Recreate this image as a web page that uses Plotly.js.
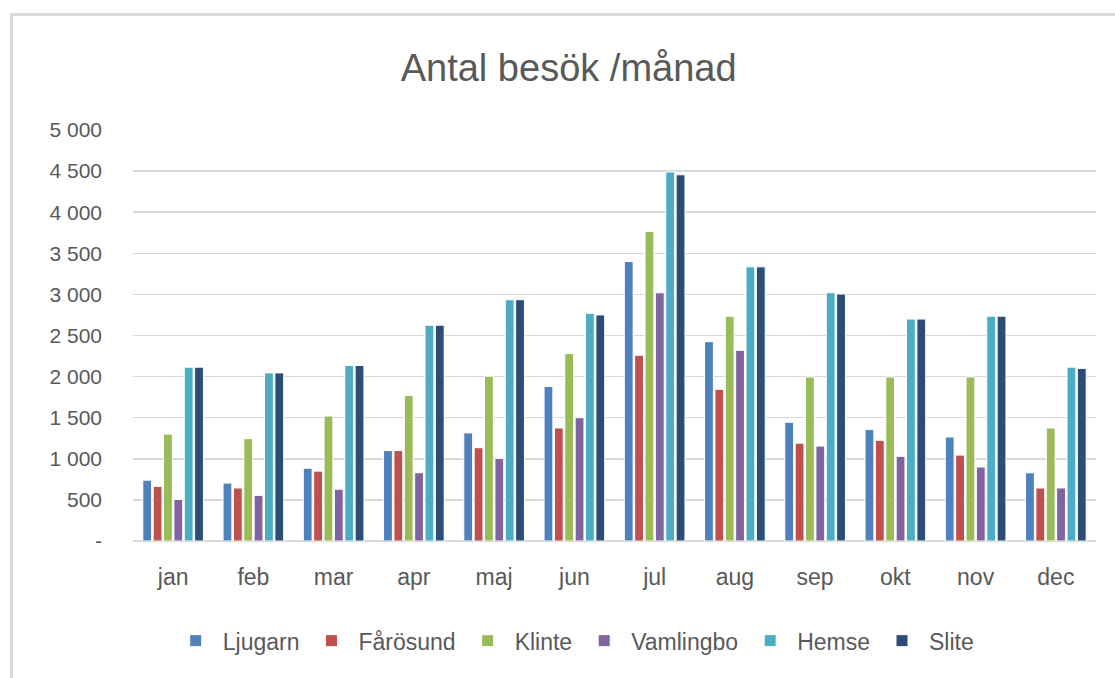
<!DOCTYPE html>
<html>
<head>
<meta charset="utf-8">
<script src="https://cdn.plot.ly/plotly-3.0.1.min.js"></script>
<style>
html,body{margin:0;padding:0;background:#fff;}
#wrap{position:relative;width:1115px;height:678px;overflow:hidden;}
#chart{position:absolute;left:0;top:0;width:1115px;height:678px;}
#frame{position:absolute;left:10px;top:13px;width:1200px;height:760px;border:3px solid #d9d9d9;box-sizing:border-box;pointer-events:none;}
</style>
</head>
<body>
<div id="wrap"><div id="chart"></div><div id="frame"></div></div>
<script>
const months = ["jan","feb","mar","apr","maj","jun","jul","aug","sep","okt","nov","dec"];
const ljugarn   = [740, 705, 885, 1100, 1315, 1880, 3400, 2425, 1445, 1355, 1265, 830];
const farosund  = [665, 645, 850, 1100, 1135, 1375, 2260, 1845, 1190, 1225, 1045, 645];
const klinte    = [1300, 1245, 1520, 1770, 2005, 2280, 3765, 2735, 1995, 1995, 1995, 1375];
const vamlingbo = [505, 555, 630, 830, 1005, 1500, 3020, 2320, 1155, 1030, 900, 645];
const hemse     = [2115, 2045, 2135, 2625, 2935, 2770, 4490, 3335, 3020, 2700, 2735, 2115];
const slite     = [2115, 2045, 2135, 2625, 2935, 2750, 4455, 3335, 3005, 2700, 2735, 2100];
const seriesNames = ["Ljugarn","Fårösund","Klinte","Vamlingbo","Hemse","Slite"];
const seriesData = [ljugarn, farosund, klinte, vamlingbo, hemse, slite];
const colors = ["#4F81BD","#C0504D","#9BBB59","#8064A2","#4BACC6","#2C4D75"];
const yTickVals = [0,500,1000,1500,2000,2500,3000,3500,4000,4500,5000];
const yTickText = ["-","500","1 000","1 500","2 000","2 500","3 000","3 500","4 000","4 500","5 000"];

const font = "Liberation Sans, Arial, sans-serif";
const traces = seriesNames.map((n,i)=>({
  type:"bar", name:n, x:months, y:seriesData[i],
  marker:{color:colors[i], line:{color:"#ffffff", width:1}},
  hoverinfo:"x+y+name"
}));

const layout = {
  width:1115, height:678,
  margin:{l:133, r:19, t:130, b:137, pad:0},
  paper_bgcolor:"#ffffff", plot_bgcolor:"#ffffff",
  barmode:"group", bargap:0.225, bargroupgap:0.15,
  title:{text:"Antal besök /månad", font:{family:font, size:38, color:"#595959"}, x:0.51, xanchor:"center", xref:"container", y:0.9, yanchor:"middle"},
  font:{family:font, color:"#595959"},
  xaxis:{type:"category", showgrid:false, showline:false, ticks:"", tickfont:{size:23, color:"#595959"}, ticklabelstandoff:20, zeroline:false},
  yaxis:{range:[0,5000], tickvals:yTickVals, ticktext:yTickText, showgrid:true, gridcolor:"#d9d9d9", gridwidth:1.5,
         zeroline:true, zerolinecolor:"#d9d9d9", zerolinewidth:1.5, ticks:"", showline:false,
         tickfont:{size:21, color:"#595959"}, ticklabelstandoff:30},
  legend:{orientation:"h", x:0.515, xanchor:"center", xref:"container", y:0.055, yref:"container", yanchor:"middle",
          itemwidth:44, font:{size:23, color:"#595959"}, traceorder:"normal"},
  showlegend:true
};
Plotly.newPlot("chart", traces, layout, {displayModeBar:false, staticPlot:true});
</script>
</body>
</html>
